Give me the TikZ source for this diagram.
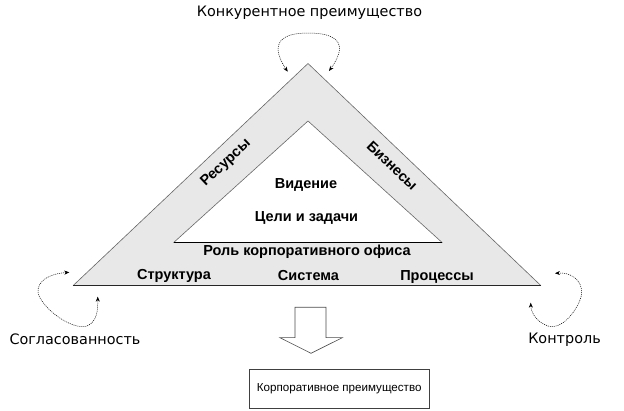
\documentclass[tikz,border=0pt]{standalone}
\usepackage{fontspec}
\setmainfont{Liberation Sans}
\newfontfamily\dvs{DejaVu Sans}
\usetikzlibrary{arrows.meta}
\begin{document}
\begin{tikzpicture}[x=1pt,y=-1pt,
  lbl/.style={font=\dvs\fontsize{14.4}{16}\selectfont, inner sep=0pt},
  bt/.style={font=\bfseries\fontsize{14.5}{17}\selectfont, inner sep=0pt},
  looparrow/.style={draw=black, line width=0.5pt, dash pattern=on 1pt off 1pt,
    {Stealth[length=5pt,width=4pt]}-{Stealth[length=5pt,width=4pt]}},
]
\useasboundingbox (0,0) rectangle (624,411);
% triangles
\coordinate (A) at (308,63.5);
\coordinate (L) at (73,285.7);
\coordinate (R) at (541,285.7);
\coordinate (a) at (308,121);
\coordinate (l) at (173.5,242.7);
\coordinate (r) at (442.3,242.7);
\fill[gray!18] (A)--(R)--(L)--cycle;
\draw[black!60, line width=0.6pt] (L)--(A)--(R);
\draw[black!85, line width=1.3pt] (L)--(R);
\fill[white] (a)--(r)--(l)--cycle;
\draw[black!60, line width=0.6pt] (l)--(a)--(r);
\draw[black, line width=1pt] (l)--(r);
% texts
\node[lbl, anchor=base] (title) at (309.5,16.7) {Конкурентное преимущество};
\node[lbl, anchor=base] (sogl) at (75,345) {Согласованность};
\node[lbl, anchor=base] (kontr) at (564.5,344) {Контроль};
\node[bt, anchor=base] (vid) at (306,188.3) {Видение};
\node[bt, anchor=base] (celi) at (306.5,221.5) {Цели и задачи};
\node[bt, anchor=base] (rol) at (307,255.7) {Роль корпоративного офиса};
\node[bt, anchor=base] (str) at (174,280) {Структура};
\node[bt, anchor=base] (sys) at (308.5,281) {Система};
\node[bt, anchor=base] (proc) at (437,281) {Процессы};
\node[bt, rotate=43.4] (res) at (226,163) {Ресурсы};
\node[bt, rotate=-43.6] (biz) at (392.3,165.7) {Бизнесы};
% loop arrows
\coordinate (tA) at (287.7,71.7);
\coordinate (tB) at (329,71);
\draw[looparrow] (tA) .. controls (268,42) and (283,33) .. (308,33) .. controls (335,33) and (350,42) .. (tB);
\coordinate (lA) at (69.3,272.3);
\coordinate (lB) at (97.7,296.7);
\draw[looparrow] (lA) .. controls (45,274) and (33,285) .. (40,298) .. controls (50,315) and (75,330) .. (87,326) .. controls (97,322) and (98,310) .. (lB);
\coordinate (rA) at (555,273.3);
\coordinate (rB) at (530.7,302.7);
\draw[looparrow] (rA) .. controls (575,272) and (586,285) .. (580,300) .. controls (574,315) and (560,330) .. (548,326) .. controls (536,322) and (531,312) .. (rB);
% hollow arrow
\draw[black!70, line width=0.6pt, fill=white] (295,307.3) -- (326,307.3) -- (326,337.7) -- (342.3,337.7) -- (311,353.3) -- (280,337.7) -- (295,337.7) -- cycle;
% box
\node[draw=black!75, line width=0.6pt, minimum width=180.3pt, minimum height=39.3pt, inner sep=0pt,
  font=\fontsize{11.6}{13}\selectfont] (box) at (339.2,388.7) {Корпоративное преимущество};
\end{tikzpicture}
\end{document}
